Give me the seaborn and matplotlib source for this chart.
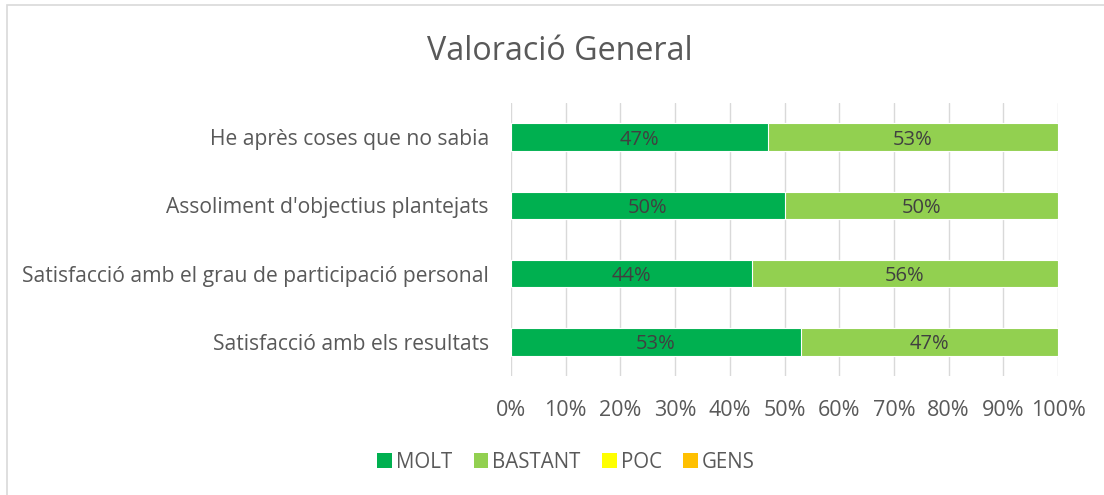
import matplotlib
matplotlib.use("Agg")
import matplotlib.pyplot as plt
import seaborn as sns
import pandas as pd
import numpy as np
from matplotlib.patches import Rectangle, Patch

categories = ["He après coses que no sabia",
              "Assoliment d'objectius plantejats",
              "Satisfacció amb el grau de participació personal",
              "Satisfacció amb els resultats"]
series = ["MOLT", "BASTANT", "POC", "GENS"]
molt = [47, 50, 44, 53]
bastant = [53, 50, 56, 47]
poc = [0, 0, 0, 0]
gens = [0, 0, 0, 0]
colors = ["#00B050", "#92D050", "#FFFF00", "#FFC000"]
xticks = [0, 10, 20, 30, 40, 50, 60, 70, 80, 90, 100]
title = "Valoració General"

sns.set_theme(style="white")
plt.rcParams['font.family'] = ['Open Sans', 'DejaVu Sans']

W, H = 1104, 495
fig = plt.figure(figsize=(W / 100, H / 100), dpi=100)
ax = fig.add_axes([511 / W, 1 - 376 / H, (1058 - 511) / W, (376 - 103) / H])

vals = [molt, bastant, poc, gens]
cum = np.cumsum(np.array(vals), axis=0)
df = pd.DataFrame({"cat": categories})
for i, s in enumerate(series):
    df[s] = cum[i]

# draw largest cumulative first
for i in reversed(range(len(series))):
    sns.barplot(data=df, y="cat", x=series[i], color=colors[i], orient="h",
                width=0.4, ax=ax, edgecolor="white", linewidth=0.8,
                saturation=1)

# labels
for i, s in enumerate(series):
    start = cum[i] - np.array(vals[i])
    for j, v in enumerate(vals[i]):
        if v > 0:
            ax.text(start[j] + v / 2, j, f"{v}%", ha="center",
                    va="center_baseline", fontsize=14.5, color="#404040")

ax.set_xlim(0, 100)
ax.set_ylim(3.5, -0.5)
ax.set_xticks(xticks)
ax.set_xticklabels([f"{t}%" for t in xticks])
ax.set_xlabel("")
ax.set_ylabel("")
ax.xaxis.grid(True, color="#D9D9D9", linewidth=1)
ax.set_axisbelow(True)
for sp in ax.spines.values():
    sp.set_visible(False)
ax.tick_params(axis="x", colors="#595959", labelsize=15.5, length=0, pad=17)
ax.tick_params(axis="y", colors="#595959", labelsize=15.2, length=0, pad=16)

fig.text(560 / W, 1 - 51 / H, title, ha="center", va="center",
         fontsize=23.2, color="#595959")

handles = [Patch(facecolor=c, edgecolor="none") for c in colors]
fig.legend(handles, series, loc="center", bbox_to_anchor=(566 / W, 1 - 462 / H),
           ncol=4, frameon=False, fontsize=14.8, labelcolor="#595959",
           handlelength=0.7, handleheight=0.7, handletextpad=0.2,
           columnspacing=1.05)

fig.patches.append(Rectangle((7 / W, -0.1), 1.2, 1 - 5 / H + 0.1,
                             transform=fig.transFigure, fill=False,
                             edgecolor="#D9D9D9", linewidth=1.2))

fig.savefig("out.png", dpi=100)
